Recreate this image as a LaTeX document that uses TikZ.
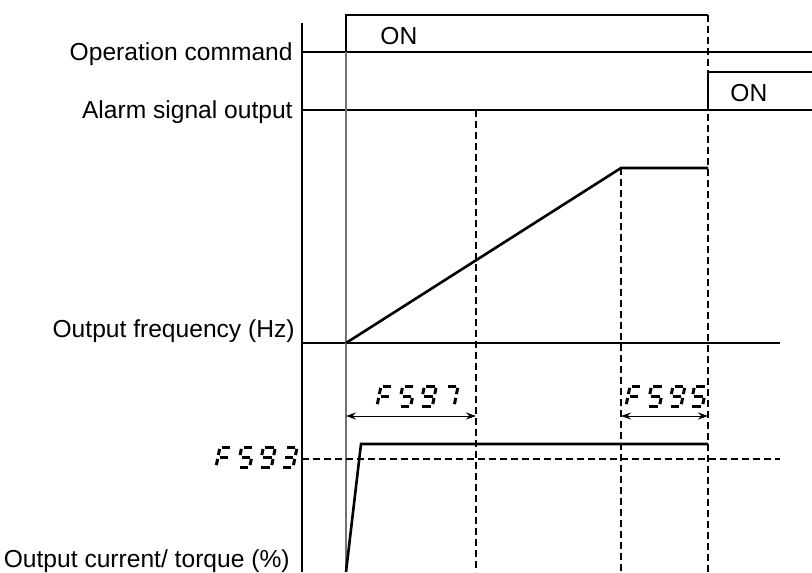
\documentclass[tikz,border=0pt]{standalone}
\usepackage{fontspec}
\setmainfont{Liberation Sans}
\usetikzlibrary{arrows.meta}
% seven-segment segments (px units, y up), width 12, height 20
\def\mysega{(1.9,20)--(10.1,20)}
\def\mysegb{(12,18.1)--(12,11.9)}
\def\mysegc{(12,8.1)--(12,1.9)}
\def\mysegd{(1.9,0)--(10.1,0)}
\def\mysege{(0,1.9)--(0,8.1)}
\def\mysegf{(0,11.9)--(0,18.1)}
\def\mysegg{(1.9,10)--(10.1,10)}
\def\digF{a,e,f,g}
\def\digFive{a,f,g,c,d}
\def\digNine{a,b,f,g,c,d}
\def\digSeven{a,b,c}
\def\digThree{a,b,g,c,d}
\newcommand{\ssdigit}[3]{%
  \begin{scope}[shift={(#1,#2)},x=0.5pt,y=0.5pt,xslant=0.2,line width=1.5pt]
    \foreach \s in #3 {\expandafter\draw\csname myseg\s\endcsname;}
  \end{scope}}
\begin{document}
\begin{tikzpicture}[x=0.5pt,y=-0.5pt,
  axis/.style={line width=0.65pt,black},
  grayline/.style={line width=0.7pt,black!55},
  sig/.style={line width=1.3pt,black,line join=miter},
  guide/.style={line width=0.75pt,dash pattern=on 3.5pt off 2pt},
  lbl/.style={font=\fontsize{12.3}{14}\selectfont,inner sep=0pt},
  dim/.style={line width=0.5pt,{Stealth[length=5pt,width=3.5pt]}-{Stealth[length=5pt,width=3.5pt]}}]
\useasboundingbox (0,0) rectangle (812,572);
% coordinates
\coordinate (axT) at (302,23);
\coordinate (axB) at (302,572);
\coordinate (opL) at (302,52);
\coordinate (opR) at (812,52);
\coordinate (alL) at (302,110);
\coordinate (alR) at (812,110);
\coordinate (fqL) at (302,343);
\coordinate (fqR) at (780,343);
\coordinate (t0a) at (346,52);
\coordinate (t0top) at (346,15);
\coordinate (t0b) at (346,572);
\coordinate (t3top) at (708,15);
\coordinate (t3b) at (708,572);
\coordinate (alUp0) at (708,110);
\coordinate (alUp1) at (708,72);
\coordinate (alUp2) at (812,72);
\coordinate (t1a) at (476,110);
\coordinate (t1b) at (476,572);
\coordinate (t2a) at (621,168);
\coordinate (t2b) at (621,572);
\coordinate (f0) at (346,343);
\coordinate (f1) at (708,168);
\coordinate (c0) at (346,572);
\coordinate (c1) at (361,444);
\coordinate (c2) at (708,444);
\coordinate (thL) at (302,459);
\coordinate (thR) at (780,459);
\coordinate (d1L) at (346,416);
\coordinate (d1R) at (476,416);
\coordinate (d2L) at (621,416);
\coordinate (d2R) at (708,416);
% axes and base lines
\draw[axis] (axT) -- (axB);
\draw[axis] (opL) -- (opR);
\draw[axis] (alL) -- (alR);
\draw[axis] (fqL) -- (fqR);
\draw[grayline] (t0a) -- (t0b);
% guides
\draw[guide] (t1a) -- (t1b);
\draw[guide] (t2a) -- (t2b);
\draw[guide] (t3top) -- (t3b);
\draw[guide] (thL) -- (thR);
% signals
\draw[sig] (t0a) -- (t0top) -- (t3top);
\draw[sig] (alUp0) -- (alUp1) -- (alUp2);
\draw[sig] (f0) -- (t2a) -- (f1);
\draw[sig] (c0) -- (c1) -- (c2);
% dimension arrows
\draw[dim] (d1L) -- (d1R);
\draw[dim] (d2L) -- (d2R);
% labels
\node[lbl,anchor=base east] (opcmd) at (293,61) {Operation command};
\node[lbl,anchor=base east] (alarm) at (293,119) {Alarm signal output};
\node[lbl,anchor=base east] (freq) at (295,337) {Output frequency (Hz)};
\node[lbl,anchor=base east] (curr) at (290,567) {Output current/ torque (\%)};
\node[lbl,anchor=base west] (on1) at (380,45) {ON};
\node[lbl,anchor=base west] (on2) at (730,102) {ON};
% seven-segment codes
\ssdigit{377}{406}{\digF}
\ssdigit{398.7}{406}{\digFive}
\ssdigit{420.4}{406}{\digNine}
\ssdigit{442.1}{406}{\digSeven}
\ssdigit{626}{406}{\digF}
\ssdigit{647.5}{406}{\digFive}
\ssdigit{669}{406}{\digNine}
\ssdigit{690.5}{406}{\digFive}
\ssdigit{216}{467}{\digF}
\ssdigit{237.7}{467}{\digFive}
\ssdigit{259.4}{467}{\digNine}
\ssdigit{281.1}{467}{\digThree}
\end{tikzpicture}
\end{document}
